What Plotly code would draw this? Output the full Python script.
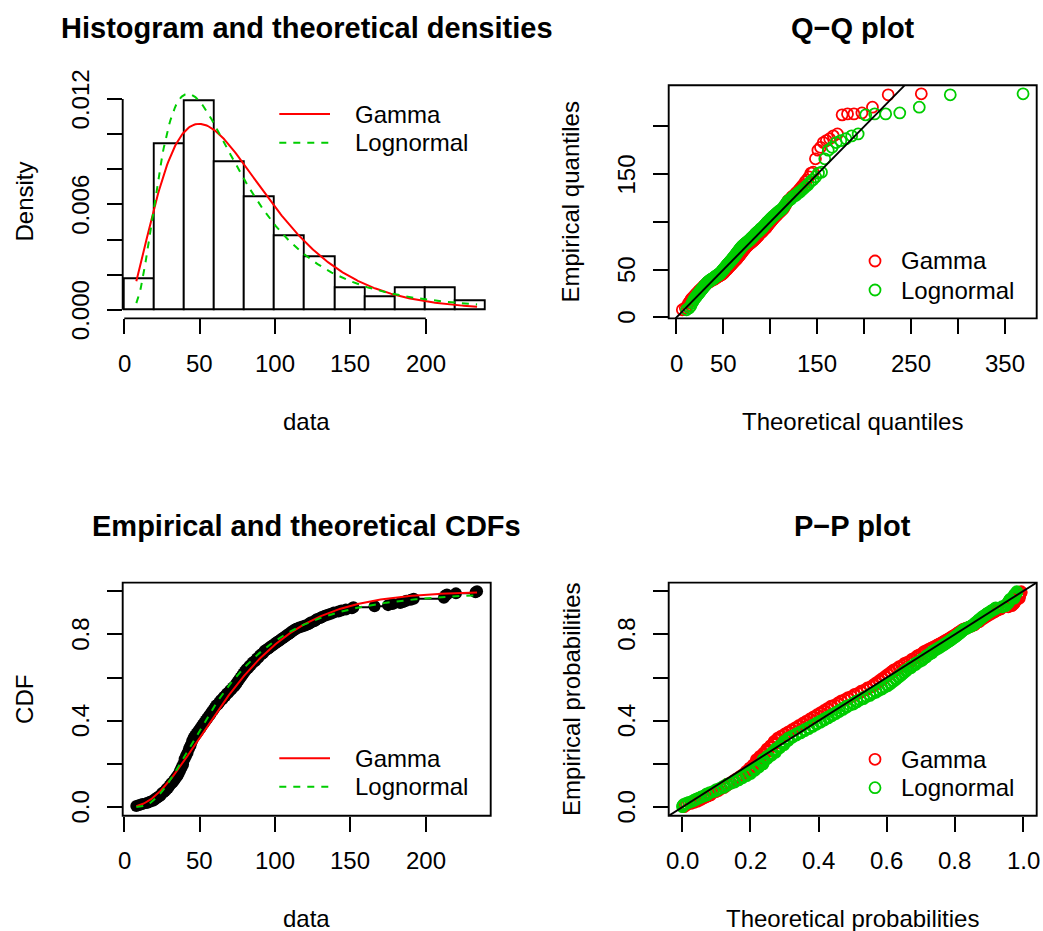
import math
import plotly.graph_objects as go

W, H = 1043, 931

# ---------------- data (sorted sample) ----------------
data = [8, 10, 12, 15, 17, 19, 20,
        21, 22, 23, 24, 25, 25, 26, 27, 28, 28, 29, 30, 30, 31, 31, 32, 33, 33, 34, 34, 35,
        35, 36, 36, 37, 37, 37, 38, 38, 38, 39, 39, 39, 40, 40, 40, 40, 40,
        41, 41, 41, 42, 42, 42, 43, 43, 43, 43, 44, 44, 44, 45, 45, 45, 45, 46, 46, 46,
        47, 47, 48, 48, 49, 49, 50, 50, 51, 51, 52, 52, 53, 53, 54, 54, 55, 55, 56, 56,
        57, 57, 58, 58, 59, 59, 60, 60,
        61, 61, 62, 63, 63, 64, 64, 65, 66, 66, 67, 68, 68, 69, 70, 70, 71, 72, 72, 73,
        74, 74, 75, 75, 76, 76, 77, 77, 78, 78, 79, 79, 80, 80,
        81, 81, 82, 83, 83, 84, 85, 85, 86, 87, 88, 88, 89, 90, 90, 91, 92, 93, 93, 94,
        95, 96, 97, 98, 99, 100,
        101, 102, 103, 104, 105, 106, 107, 108, 109, 110, 111, 112, 113, 114, 116, 118, 120,
        122, 123, 124, 126, 127, 128, 130, 131, 133, 135, 137, 139,
        142, 144, 147, 151, 152,
        166, 175, 178,
        183, 185, 187, 190, 192,
        212, 213, 213, 214, 220,
        233, 234]

breaks = [0, 20, 40, 60, 80, 100, 120, 140, 160, 180, 200, 220, 240]

gamma_shape = 2.9
gamma_rate = 0.0382
lnorm_meanlog = 4.14
lnorm_sdlog = 0.63

dist_names = ["Gamma", "Lognormal"]
dist_colors = ["#FF0000", "#00CD00"]
dist_dash = ["solid", "7px,7px"]

titles = ["Histogram and theoretical densities", "Q\u2212Q plot",
          "Empirical and theoretical CDFs", "P\u2212P plot"]
xtitles = ["data", "Theoretical quantiles", "data", "Theoretical probabilities"]
ytitles = ["Density", "Empirical quantiles", "CDF", "Empirical probabilities"]

p1_xticks = [0, 50, 100, 150, 200]
p1_xlabels = ["0", "50", "100", "150", "200"]
p1_yticks = [0, 0.002, 0.004, 0.006, 0.008, 0.010, 0.012]
p1_ylabels = ["0.000", "", "", "0.006", "", "", "0.012"]
p2_xticks = [0, 50, 100, 150, 200, 250, 300, 350]
p2_xlabels = ["0", "50", "", "150", "", "250", "", "350"]
p2_yticks = [0, 50, 100, 150, 200]
p2_ylabels = ["0", "50", "", "150", ""]
p3_xticks = [0, 50, 100, 150, 200]
p3_xlabels = ["0", "50", "100", "150", "200"]
p3_yticks = [0, 0.2, 0.4, 0.6, 0.8, 1.0]
p3_ylabels = ["0.0", "", "0.4", "", "0.8", ""]
p4_xticks = [0, 0.2, 0.4, 0.6, 0.8, 1.0]
p4_xlabels = ["0.0", "0.2", "0.4", "0.6", "0.8", "1.0"]
p4_yticks = [0, 0.2, 0.4, 0.6, 0.8, 1.0]
p4_ylabels = ["0.0", "", "0.4", "", "0.8", ""]

# ---------------- distribution helpers ----------------
def dgamma(x):
    k, r = gamma_shape, gamma_rate
    return math.exp(k * math.log(r) + (k - 1) * math.log(x) - r * x - math.lgamma(k))

def pgamma(x):
    k, r = gamma_shape, gamma_rate
    z = r * x
    if z <= 0:
        return 0.0
    term = 1.0 / k
    s = term
    n = 1
    while n < 1000:
        term *= z / (k + n)
        s += term
        n += 1
        if term < 1e-16 * s:
            break
    return s * math.exp(-z + k * math.log(z) - math.lgamma(k))

def dlnorm(x):
    m, s = lnorm_meanlog, lnorm_sdlog
    return math.exp(-(math.log(x) - m) ** 2 / (2 * s * s)) / (x * s * math.sqrt(2 * math.pi))

def plnorm(x):
    m, s = lnorm_meanlog, lnorm_sdlog
    return 0.5 * (1 + math.erf((math.log(x) - m) / (s * math.sqrt(2))))

def quantile(cdf, p):
    lo, hi = 1e-9, 5000.0
    for _ in range(90):
        mid = 0.5 * (lo + hi)
        if cdf(mid) < p:
            lo = mid
        else:
            hi = mid
    return 0.5 * (lo + hi)

dens_funcs = [dgamma, dlnorm]
cdf_funcs = [pgamma, plnorm]

def ext(lo, hi):
    d = hi - lo
    return [lo - 0.04 * d, hi + 0.04 * d]

n = len(data)
xs_sorted = sorted(data)
dmin, dmax = xs_sorted[0], xs_sorted[-1]
ppts = [(i + 0.5) / n for i in range(n)]

# histogram (right-closed bins, like R)
counts = []
for j in range(len(breaks) - 1):
    lo, hi = breaks[j], breaks[j + 1]
    c = sum(1 for v in data if (lo < v <= hi) or (j == 0 and v == lo))
    counts.append(c)
widths = [breaks[j + 1] - breaks[j] for j in range(len(breaks) - 1)]
mids = [(breaks[j] + breaks[j + 1]) / 2 for j in range(len(breaks) - 1)]
dens = [c / (n * w) for c, w in zip(counts, widths)]

grid = [dmin + (dmax - dmin) * j / 300 for j in range(301)]
curve_d = [[f(x) for x in grid] for f in dens_funcs]
curve_p = [[f(x) for x in grid] for f in cdf_funcs]

qq_x = [[quantile(f, p) for p in ppts] for f in cdf_funcs]
pp_x = [[f(v) for v in xs_sorted] for f in cdf_funcs]

uniq = sorted(set(xs_sorted))
ecdf_y = [sum(1 for v in xs_sorted if v <= u) / n for u in uniq]

# ---------------- layout geometry (pixels) ----------------
cols = [(122.7, 490.7), (668.7, 1036.7)]
rows = [(85.2, 318.4), (582.6, 815.8)]
panels = [(cols[0], rows[0]), (cols[1], rows[0]), (cols[0], rows[1]), (cols[1], rows[1])]

FONT = "Liberation Sans, Arial, Helvetica, sans-serif"
TICKFS = 24
TITLEFS = 29
LW = 1.9
MS = 11
MLW = 1.8

fig = go.Figure()

ranges_x = [ext(dmin, dmax),
            ext(min(min(q) for q in qq_x), max(max(q) for q in qq_x)),
            ext(dmin, dmax),
            ext(0, 1)]
ymax1 = max(max(dens), max(max(c) for c in curve_d))
ranges_y = [ext(0, ymax1), ext(dmin, dmax), ext(0, 1), ext(0, 1)]
xticks_all = [p1_xticks, p2_xticks, p3_xticks, p4_xticks]
yticks_all = [p1_yticks, p2_yticks, p3_yticks, p4_yticks]
xlabels_all = [p1_xlabels, p2_xlabels, p3_xlabels, p4_xlabels]
ylabels_all = [p1_ylabels, p2_ylabels, p3_ylabels, p4_ylabels]

layout_axes = {}
for i, ((x0, x1), (y0, y1)) in enumerate(panels):
    k = "" if i == 0 else str(i + 1)
    layout_axes["xaxis" + k] = dict(
        domain=[x0 / W, x1 / W], range=ranges_x[i], anchor="y" + k,
        showgrid=False, zeroline=False, showline=False,
        tickmode="array", tickvals=xticks_all[i], showticklabels=False,
        ticks="outside", ticklen=15, tickwidth=LW, tickcolor="black", fixedrange=True)
    layout_axes["yaxis" + k] = dict(
        domain=[1 - y1 / H, 1 - y0 / H], range=ranges_y[i], anchor="x" + k,
        showgrid=False, zeroline=False, showline=False,
        tickmode="array", tickvals=yticks_all[i], showticklabels=False,
        ticks="outside", ticklen=15, tickwidth=LW, tickcolor="black", fixedrange=True)
# overlay axis in pixel units for legends
layout_axes["xaxis5"] = dict(domain=[0, 1], range=[0, W], visible=False, anchor="y5", fixedrange=True)
layout_axes["yaxis5"] = dict(domain=[0, 1], range=[H, 0], visible=False, anchor="x5", fixedrange=True)

# ---------------- panel 1: histogram + densities ----------------
fig.add_trace(go.Bar(x=mids, y=dens, width=widths, marker=dict(color="white", line=dict(color="black", width=LW)),
                     xaxis="x", yaxis="y", showlegend=False, hoverinfo="skip"))
for j in range(2):
    fig.add_trace(go.Scatter(x=grid, y=curve_d[j], mode="lines",
                             line=dict(color=dist_colors[j], width=2, dash=dist_dash[j]),
                             xaxis="x", yaxis="y", showlegend=False, hoverinfo="skip"))

# ---------------- panel 2: Q-Q ----------------
for j in range(2):
    fig.add_trace(go.Scatter(x=qq_x[j], y=xs_sorted, mode="markers",
                             marker=dict(symbol="circle-open", size=MS, color=dist_colors[j],
                                         line=dict(width=MLW, color=dist_colors[j])),
                             xaxis="x2", yaxis="y2", showlegend=False, hoverinfo="skip"))
lo2 = max(ranges_x[1][0], ranges_y[1][0])
hi2 = min(ranges_x[1][1], ranges_y[1][1])
fig.add_trace(go.Scatter(x=[lo2, hi2], y=[lo2, hi2], mode="lines", line=dict(color="black", width=LW),
                         xaxis="x2", yaxis="y2", showlegend=False, hoverinfo="skip"))

# ---------------- panel 3: CDFs ----------------
fig.add_trace(go.Scatter(x=uniq, y=ecdf_y, mode="lines+markers", line=dict(color="black", width=LW, shape="hv"),
                         marker=dict(size=12, color="black"),
                         xaxis="x3", yaxis="y3", showlegend=False, hoverinfo="skip"))
for j in range(2):
    fig.add_trace(go.Scatter(x=grid, y=curve_p[j], mode="lines",
                             line=dict(color=dist_colors[j], width=2, dash=dist_dash[j]),
                             xaxis="x3", yaxis="y3", showlegend=False, hoverinfo="skip"))

# ---------------- panel 4: P-P ----------------
for j in range(2):
    fig.add_trace(go.Scatter(x=pp_x[j], y=ppts, mode="markers",
                             marker=dict(symbol="circle-open", size=MS, color=dist_colors[j],
                                         line=dict(width=MLW, color=dist_colors[j])),
                             xaxis="x4", yaxis="y4", showlegend=False, hoverinfo="skip"))
lo4 = max(ranges_x[3][0], ranges_y[3][0])
hi4 = min(ranges_x[3][1], ranges_y[3][1])
fig.add_trace(go.Scatter(x=[lo4, hi4], y=[lo4, hi4], mode="lines", line=dict(color="black", width=LW),
                         xaxis="x4", yaxis="y4", showlegend=False, hoverinfo="skip"))

# ---------------- legends (pixel overlay) ----------------
line_leg = [(279.3, 330.0, 354.0, [114.0, 142.7]), (279.3, 330.0, 354.0, [758.3, 786.7])]
for (lx0, lx1, tx, ys) in line_leg:
    for j in range(2):
        fig.add_trace(go.Scatter(x=[lx0, lx1], y=[ys[j], ys[j]], mode="lines",
                                 line=dict(color=dist_colors[j], width=2, dash=dist_dash[j]),
                                 xaxis="x5", yaxis="y5", showlegend=False, hoverinfo="skip"))
pt_leg = [(875.0, 900.0, [261.0, 290.0]), (875.0, 900.0, [759.3, 787.7])]
for (mx, tx, ys) in pt_leg:
    for j in range(2):
        fig.add_trace(go.Scatter(x=[mx], y=[ys[j]], mode="markers",
                                 marker=dict(symbol="circle-open", size=MS, color=dist_colors[j],
                                             line=dict(width=MLW, color=dist_colors[j])),
                                 xaxis="x5", yaxis="y5", showlegend=False, hoverinfo="skip"))

annotations = []
def txt(x, y, s, size=TICKFS, xanchor="center", angle=0, bold=False):
    annotations.append(dict(x=x / W, y=1 - y / H, xref="paper", yref="paper", text=("<b>%s</b>" % s) if bold else s,
                            showarrow=False, xanchor=xanchor, yanchor="middle", textangle=angle,
                            borderpad=0, font=dict(family=FONT, size=size, color="black")))

for (lx0, lx1, tx, ys) in line_leg:
    for j in range(2):
        txt(tx, ys[j], dist_names[j], xanchor="left")
for (mx, tx, ys) in pt_leg:
    for j in range(2):
        txt(tx, ys[j], dist_names[j], xanchor="left")

# titles and axis titles
for i, ((x0, x1), (y0, y1)) in enumerate(panels):
    cx = (x0 + x1) / 2
    cy = (y0 + y1) / 2
    txt(cx, y0 - 57, titles[i], size=TITLEFS, bold=True)
    txt(cx, y1 + 103, xtitles[i])
    txt(x0 - 98, cy, ytitles[i], angle=-90)
    k = "" if i == 0 else str(i + 1)
    for t, lab in zip(xticks_all[i], xlabels_all[i]):
        if lab:
            annotations.append(dict(x=t, xref="x" + k, y=1 - (y1 + 44.8) / H, yref="paper", text=lab,
                                    showarrow=False, xanchor="center", yanchor="middle", borderpad=0,
                                    font=dict(family=FONT, size=TICKFS, color="black")))
    for t, lab in zip(yticks_all[i], ylabels_all[i]):
        if lab:
            annotations.append(dict(x=(x0 - 42.3) / W, xref="paper", y=t, yref="y" + k, text=lab,
                                    showarrow=False, xanchor="center", yanchor="middle", textangle=-90,
                                    borderpad=0, font=dict(family=FONT, size=TICKFS, color="black")))

# axis lines / boxes
shapes = []
shapes.append(dict(type="line", xref="x", yref="y domain", x0=p1_xticks[0], x1=p1_xticks[-1], y0=0, y1=0,
                   line=dict(color="black", width=LW)))
shapes.append(dict(type="line", xref="x domain", yref="y", x0=0, x1=0, y0=p1_yticks[0], y1=p1_yticks[-1],
                   line=dict(color="black", width=LW)))
for k in ["2", "3", "4"]:
    shapes.append(dict(type="rect", xref="x%s domain" % k, yref="y%s domain" % k, x0=0, x1=1, y0=0, y1=1,
                       line=dict(color="black", width=LW), fillcolor="rgba(0,0,0,0)", layer="above"))

fig.update_layout(width=W, height=H, margin=dict(l=0, r=0, t=0, b=0),
                  paper_bgcolor="white", plot_bgcolor="rgba(0,0,0,0)",
                  showlegend=False, bargap=0, annotations=annotations, shapes=shapes,
                  font=dict(family=FONT, size=TICKFS, color="black"), **layout_axes)

fig.write_html("out.html", config={"displayModeBar": False},
               post_script="document.body.style.margin='0';document.body.style.padding='0';"
                           "document.documentElement.style.overflow='hidden';")
